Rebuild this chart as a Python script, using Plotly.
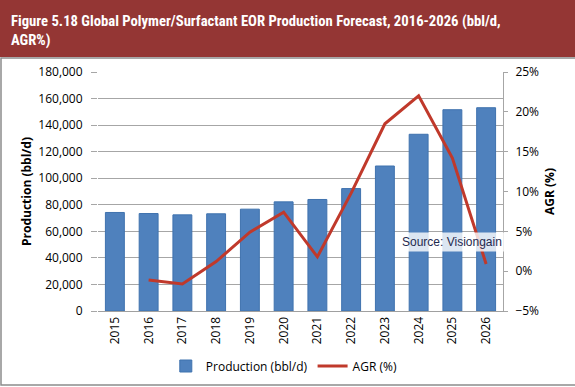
import plotly.graph_objects as go

years = ["2015", "2016", "2017", "2018", "2019", "2020", "2021", "2022", "2023", "2024", "2025", "2026"]
production = [74200, 73400, 72400, 73200, 76700, 82200, 84000, 92200, 109200, 133100, 151600, 153100]
agr_years = years[1:]
agr = [-1.1, -1.6, 1.2, 4.9, 7.4, 1.8, 9.8, 18.5, 22.0, 14.2, 0.9]

W, H = 575, 387
L, R, T, B = 98, 503, 72, 311


def px(x):
    return (x - L) / (R - L)


def py(y):
    return (B - y) / (B - T)


fig = go.Figure()
fig.add_trace(go.Bar(
    x=years, y=production, name="Production (bbl/d)",
    marker=dict(color="#4F81BD", line=dict(color="#3F72AE", width=1)),
    yaxis="y",
))
fig.add_trace(go.Scatter(
    x=agr_years, y=agr, name="AGR (%)", mode="lines",
    line=dict(color="#C0392B", width=3),
    yaxis="y2",
))

tickfont = dict(family="Open Sans, Liberation Sans, sans-serif", size=12, color="#000000")
titlefont = dict(family="Open Sans, Liberation Sans, sans-serif", size=12, color="#000")
fig.update_layout(
    width=W, height=H,
    margin=dict(l=L, r=W - R, t=T, b=H - B, autoexpand=False),
    paper_bgcolor="white", plot_bgcolor="white",
    bargap=0.44,
    showlegend=True,
    legend=dict(orientation="h", x=0.46, xanchor="center", y=py(366), yanchor="middle",
                font=dict(family="Open Sans, Liberation Sans, sans-serif", size=12, color="#000"),
                itemwidth=30, tracegroupgap=0),
    xaxis=dict(type="category", tickangle=-90, tickfont=tickfont, showgrid=False, automargin=False,
               showline=True, linecolor="#A0A0A0", linewidth=1, ticks="", ticklen=0),
    yaxis=dict(range=[0, 180000], dtick=20000, tickformat=",d", tickfont=tickfont, automargin=False,
               showgrid=True, gridcolor="#A6A6A6", gridwidth=1, zeroline=False,
               ticks="outside", ticklen=6, tickcolor="#A6A6A6", showline=False,
               ticklabelstandoff=6,
               title=dict(text="<b>Production (bbl/d)</b>", standoff=4, font=titlefont)),
    yaxis2=dict(range=[-5, 25], dtick=5, ticksuffix="%", overlaying="y", side="right", automargin=False,
                tickfont=tickfont, showgrid=False, zeroline=False,
                showline=True, linecolor="#A6A6A6", linewidth=1,
                ticks="outside", ticklen=4, tickcolor="#A6A6A6",
                ticklabelstandoff=5,
                title=dict(text="<b>AGR (%)</b>", standoff=7, font=titlefont)),
    shapes=[
        dict(type="rect", xref="paper", yref="paper", x0=px(-2), x1=px(W + 2), y0=py(57), y1=py(-2),
             fillcolor="#943634", line=dict(width=0), layer="below"),
        dict(type="rect", xref="paper", yref="paper", x0=px(1), x1=px(W + 2), y0=py(385), y1=py(58),
             fillcolor="rgba(0,0,0,0)", line=dict(color="#8C8C8C", width=1.5), layer="below"),
    ],
    annotations=[
        dict(text="<b>Figure 5.18 Global Polymer/Surfactant EOR Production Forecast, 2016-2026 (bbl/d,<br>AGR%)</b>",
             xref="paper", yref="paper", x=px(9), y=py(30), xanchor="left", yanchor="middle",
             align="left", showarrow=False,
             font=dict(family="Liberation Sans Narrow, Roboto Condensed, Roboto, sans-serif", size=14.7, color="white")),
        dict(text="Source: Visiongain", xref="paper", yref="paper", x=px(452), y=py(241.5),
             xanchor="center", yanchor="middle", showarrow=False,
             bgcolor="rgba(255,255,255,0.8)", borderpad=2,
             font=dict(family="Liberation Sans, Arial, sans-serif", size=12, color="#1F2A4F")),
    ],
)

fig.write_html("out.html", config={"displayModeBar": False},
               post_script="document.body.style.margin='0';document.body.style.overflow='hidden';")
